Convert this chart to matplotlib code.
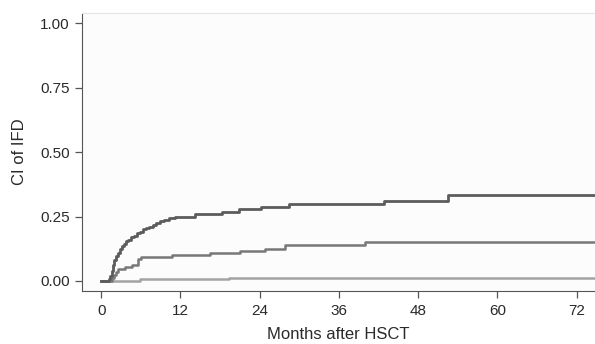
import matplotlib.pyplot as plt

plt.rcParams['font.family'] = ['Liberation Sans', 'DejaVu Sans']

# step curves: (months, cumulative incidence)
dark_t = [0, 1.2, 1.4, 1.6, 1.8, 2.0, 2.2, 2.5, 2.8, 3.1, 3.4, 3.8, 4.1, 4.5, 5.0,
          5.4, 5.8, 6.3, 6.8, 7.3, 7.8, 8.3, 8.9, 9.5, 10.2, 11.2, 14.2, 18.3,
          20.8, 24.2, 28.4, 42.8, 52.6, 76]
dark_v = [0, 0.008, 0.02, 0.04, 0.06, 0.08, 0.095, 0.11, 0.125, 0.135, 0.145, 0.155,
          0.16, 0.17, 0.175, 0.185, 0.19, 0.2, 0.205, 0.21, 0.218, 0.225, 0.232,
          0.238, 0.243, 0.25, 0.259, 0.268, 0.278, 0.288, 0.299, 0.312, 0.333, 0.333]

mid_t = [0, 1.6, 1.9, 2.2, 2.6, 3.6, 4.6, 5.6, 6.0, 10.7, 16.5, 21.0, 24.8, 27.9, 40.0, 76]
mid_v = [0, 0.01, 0.025, 0.035, 0.047, 0.055, 0.062, 0.084, 0.092, 0.10, 0.11, 0.118,
         0.124, 0.14, 0.15, 0.15]

light_t = [0, 5.9, 19.3, 76]
light_v = [0, 0.008, 0.013, 0.013]

xticks = [0, 12, 24, 36, 48, 60, 72]
yticks = [0.0, 0.25, 0.5, 0.75, 1.0]

fig = plt.figure(figsize=(5.95, 3.44), dpi=100)
ax = fig.add_axes([0.138, 0.154, 0.862, 0.808])
ax.set_facecolor('#fcfcfc')

ax.step(light_t, light_v, where='post', color='#a3a3a3', lw=1.8)
ax.step(mid_t, mid_v, where='post', color='#787878', lw=1.8)
ax.step(dark_t, dark_v, where='post', color='#5c5c5c', lw=2.0)

ax.set_xlim(-2.9, 74.8)
ax.set_ylim(-0.039, 1.039)
ax.set_xticks(xticks)
ax.set_yticks(yticks)
ax.set_yticklabels(['%.2f' % v for v in yticks])

ax.spines['right'].set_visible(False)
ax.spines['top'].set_color('#e4e4e4')
ax.spines['left'].set_color('#555555')
ax.spines['bottom'].set_color('#555555')
ax.tick_params(colors='#555555', labelcolor='#2a2a2a', labelsize=11, length=5,
               width=0.9, pad=4)

ax.set_xlabel('Months after HSCT', fontsize=12, color='#2a2a2a', labelpad=7)
ax.set_ylabel('CI of IFD', fontsize=12, color='#2a2a2a', labelpad=9)

fig.savefig('out.png', dpi=100)
